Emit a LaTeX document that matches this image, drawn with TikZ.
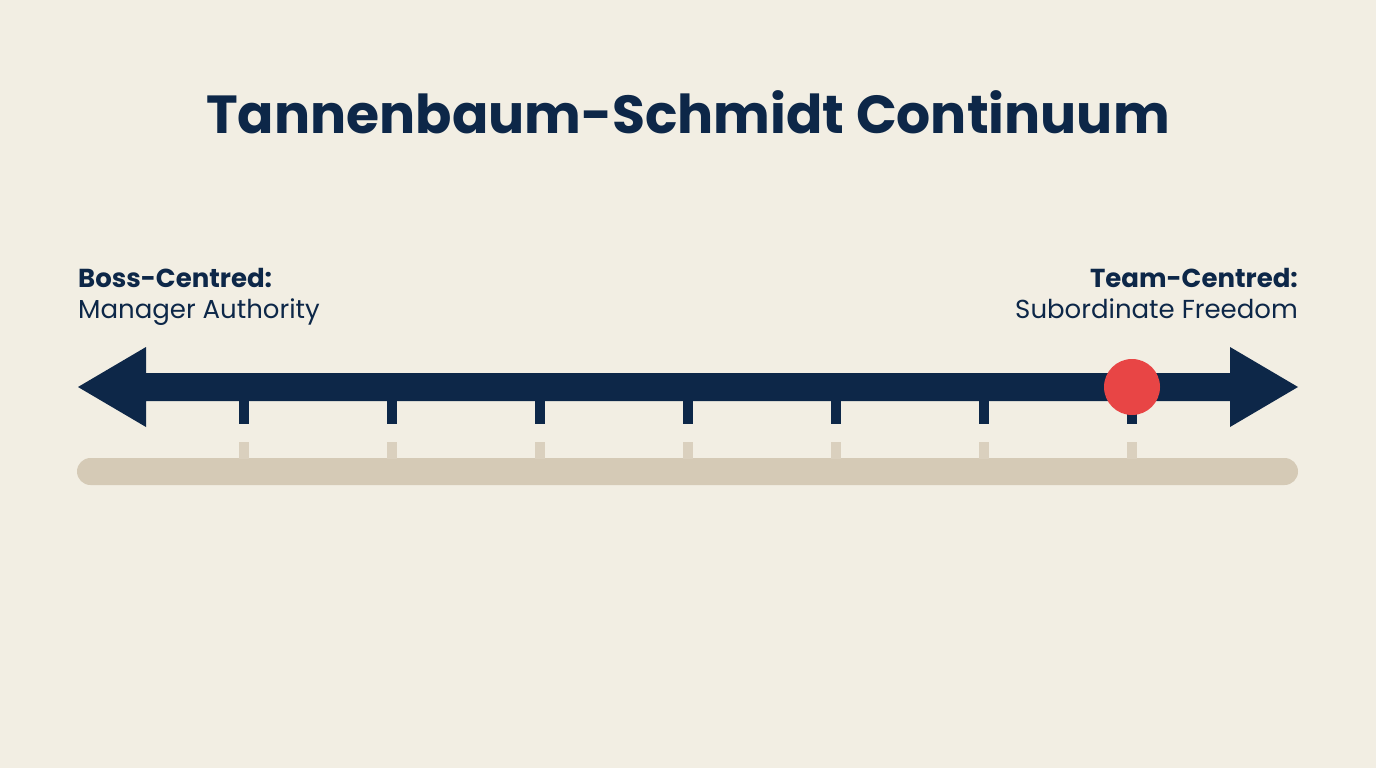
\documentclass[tikz,border=0pt]{standalone}
\usepackage{fontspec}
\setmainfont{Poppins}
\definecolor{bgc}{HTML}{F2EEE3}
\definecolor{navy}{HTML}{0D2748}
\definecolor{dotred}{HTML}{E84545}
\definecolor{barc}{HTML}{D5CAB6}
\definecolor{tickc}{HTML}{DAD0BE}
\tikzset{
  titletext/.style={font=\fontsize{53.6}{60}\selectfont\bfseries, text=navy, inner sep=0pt},
  headtext/.style={font=\fontsize{26}{30}\selectfont\bfseries, text=navy, inner sep=0pt},
  subtext/.style={font=\fontsize{26}{30}\selectfont, text=navy, inner sep=0pt},
  navytick/.style={fill=navy},
  beigetick/.style={fill=tickc},
}
\begin{document}
\begin{tikzpicture}[x=1pt,y=-1pt]
\fill[bgc] (0,0) rectangle (1376,768);
\useasboundingbox (0,0) rectangle (1376,768);
% title
\node[titletext, anchor=base] (title) at (688,133) {Tannenbaum-Schmidt Continuum};
% labels
\node[headtext, anchor=base west] (lhead) at (78,287) {Boss-Centred:};
\node[subtext, anchor=base west] (lsub) at (78,318) {Manager Authority};
\node[headtext, anchor=base east] (rhead) at (1298,287) {Team-Centred:};
\node[subtext, anchor=base east] (rsub) at (1298,318) {Subordinate Freedom};
% beige bar
\fill[barc, rounded corners=13.5pt] (77,458) rectangle (1298,485);
% ticks
\foreach \x in {244,392,540,688,836,984,1132}{
  \fill[navytick] (\x-5,398) rectangle (\x+5,424);
  \fill[beigetick] (\x-5,442) rectangle (\x+5,459);
}
% double arrow
\fill[navy] (78,387) -- (146,347) -- (146,373) -- (1230,373) -- (1230,347)
  -- (1298,387) -- (1230,427) -- (1230,401) -- (146,401) -- (146,427) -- cycle;
% marker
\fill[dotred] (1132,387) circle (28);
\end{tikzpicture}
\end{document}
